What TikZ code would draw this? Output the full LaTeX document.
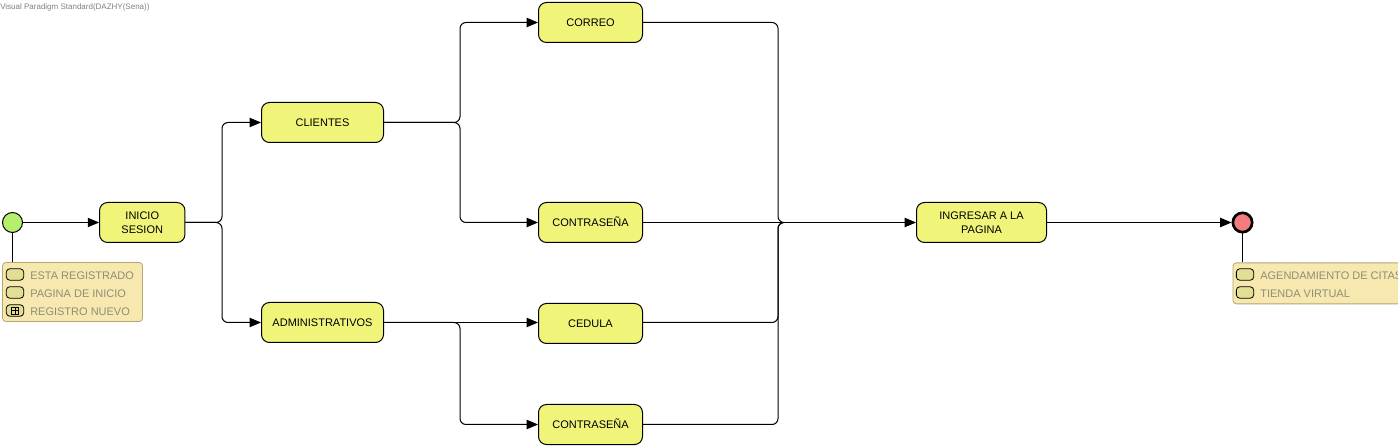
\documentclass[tikz,border=0pt]{standalone}
\usepackage{fontspec}
\setmainfont{Liberation Sans}
\usetikzlibrary{arrows.meta,positioning,calc}
\definecolor{boxfill}{HTML}{F0F57A}
\definecolor{notefill}{HTML}{F6E8AE}
\definecolor{noteline}{HTML}{B5A674}
\definecolor{notetext}{HTML}{8E8E78}
\definecolor{itemfill}{HTML}{E2DE94}
\definecolor{startfill}{HTML}{B4F06E}
\definecolor{endfill}{HTML}{F47C7C}
\newcommand\capsonly[1]{\raisebox{0pt}[5.9pt][0pt]{#1}}
\tikzset{
  px/.style={x=0.75pt,y=-0.75pt},
  task/.style={draw=black,line width=0.75pt,fill=boxfill,rounded corners=6pt,minimum height=30pt,inner sep=0pt,align=center,font=\fontsize{8.25}{10.5}\selectfont,text=black},
  narrow/.style={task,minimum width=78pt},
  mid/.style={task,minimum width=91.5pt},
  initial/.style={task,minimum width=64pt},
  final/.style={task,minimum width=97.5pt},
  startev/.style={circle,draw=black,line width=0.75pt,fill=startfill,minimum size=15pt,inner sep=0pt},
  endev/.style={circle,draw=black,line width=2pt,fill=endfill,minimum size=14.5pt,inner sep=0pt},
  flow/.style={draw=black,line width=0.75pt,rounded corners=4.5pt,-{Triangle[length=8.5pt,width=7pt]}},
  flowplain/.style={draw=black,line width=0.75pt,rounded corners=4.5pt},
  assoc/.style={draw=black,line width=0.75pt},
  notebox/.style={draw=noteline,line width=0.6pt,fill=notefill,rounded corners=2.5pt,inner sep=0pt},
  item/.style={draw=black,line width=0.6pt,fill=itemfill,rounded corners=2.5pt,minimum width=13pt,minimum height=8.5pt,inner sep=0pt},
  itemtext/.style={anchor=west,inner sep=0pt,text=notetext,font=\fontsize{8.25}{10}\selectfont},
  title/.style={anchor=west,inner sep=0pt,text=gray,font=\fontsize{6}{7}\selectfont},
}
\begin{document}
\begin{tikzpicture}[px]
\useasboundingbox (0,0) rectangle (1398,448);
\clip (0,0) rectangle (1398,448);
\node[title] (watermark) at (0,7) {Visual Paradigm Standard(DAZHY(Sena))};
% notes
\node[notebox,minimum width=105pt,minimum height=44.25pt] (noteL) at (72.5,292) {};
\node[notebox,minimum width=150pt,minimum height=30.75pt,anchor=north west] (noteR) at (1232.5,262.5) {};
% events
\node[startev] (start) at (12.5,222.5) {};
\node[endev] (stop) at (1242.5,222.5) {};
% tasks
\node[initial] (inicio) at (142.25,222.5) {INICIO\\SESION};
\node[narrow,minimum width=91.5pt] (clientes) at (322.5,122.5) {CLIENTES};
\node[mid] (admin) at (322.5,322.5) {ADMINISTRATIVOS};
\node[narrow] (correo) at (590.5,22.5) {CORREO};
\node[narrow] (pass1) at (590.5,222.5) {\capsonly{CONTRASEÑA}};
\node[narrow] (cedula) at (590.5,323.5) {CEDULA};
\node[narrow] (pass2) at (590.5,424.5) {\capsonly{CONTRASEÑA}};
\node[final] (ingresar) at (981.5,222.5) {INGRESAR A LA\\PAGINA};
% junction points
\coordinate (j1) at (222,222.5);
\coordinate (j2) at (460,122.5);
\coordinate (j3) at (460,322.5);
\coordinate (j4) at (778,222.5);
% connectors
\draw[flow] (start.east) -- (inicio.west);
\draw[flow] (inicio.east) -- (j1) |- (clientes.west);
\draw[flow] (inicio.east) -- (j1) |- (admin.west);
\draw[flow] (clientes.east) -- (j2) |- (correo.west);
\draw[flow] (clientes.east) -- (j2) |- (pass1.west);
\draw[flow] (admin.east) -- (cedula.west |- admin.east);
\draw[flow] (admin.east) -- (j3) |- (pass2.west);
\draw[flowplain] (correo.east) -| (j4) -- +(6,0);
\draw[flowplain] (cedula.east |- admin.east) -| (j4) -- +(6,0);
\draw[flowplain] (pass2.east) -| (j4) -- +(6,0);
\draw[flow] (pass1.east) -- (ingresar.west);
\draw[flow] (ingresar.east) -- (stop.west);
\draw[assoc] (start.south) -- (start.south |- noteL.north);
\draw[assoc] (stop.south) -- (stop.south |- noteR.north);
% left note content
\node[item] (i1) at (15,274.5) {};
\node[item] (i2) at (15,292.5) {};
\node[item] (i3) at (15,310.5) {};
\node[draw=black,line width=0.4pt,minimum size=5pt,inner sep=0pt] (plus) at (15,310.5) {};
\draw[line width=0.4pt] (plus.north) -- (plus.south) (plus.west) -- (plus.east);
\node[itemtext] (t1) at (30,275.5) {ESTA REGISTRADO};
\node[itemtext] (t2) at (30,293.5) {PAGINA DE INICIO};
\node[itemtext] (t3) at (30,311.5) {REGISTRO NUEVO};
% right note content
\node[item] (r1) at (1245,274.5) {};
\node[item] (r2) at (1245,292.5) {};
\node[itemtext] (rt1) at (1260,275.5) {AGENDAMIENTO DE CITAS};
\node[itemtext] (rt2) at (1260,293.5) {TIENDA VIRTUAL};
\end{tikzpicture}
\end{document}
